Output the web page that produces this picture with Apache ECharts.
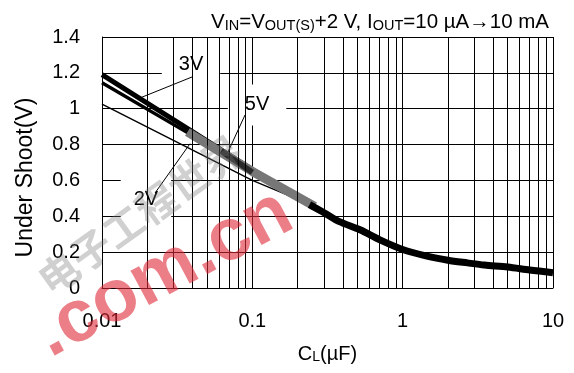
<!DOCTYPE html>
<html>
<head>
<meta charset="utf-8">
<script src="https://cdn.jsdelivr.net/npm/echarts@6/dist/echarts.min.js"></script>
<style>
	html, body { margin: 0; padding: 0; background: #fff; }
	#main { width: 574px; height: 373px; }
</style>
</head>
<body>
<div id="main"></div>
<script>
// 数据 (x: CL uF, y: Under Shoot V)
var cap3V = [0.01, 0.0385, 0.1, 0.25];
var shoot3V = [1.19, 0.88, 0.66, 0.46];
var capMid = [0.01, 0.04, 0.1, 0.25];
var shootMid = [1.145, 0.85, 0.645, 0.46];
var cap2V = [0.01, 0.1, 0.26];
var shoot2V = [1.025, 0.60, 0.455];
var cap5V = [0.037, 0.1, 0.26];
var shoot5V = [0.87, 0.65, 0.455];
var capDark = [0.062, 0.1];
var shootDark = [0.765, 0.645];
var capTail = [0.24, 0.3, 0.38, 0.52, 0.7, 1, 1.45, 2, 2.7, 3.5, 5, 7, 10];
var shootTail = [0.465, 0.42, 0.37, 0.325, 0.27, 0.215, 0.178, 0.155, 0.14, 0.128, 0.117, 0.1, 0.085];
var xTicks = ['0.01', '0.1', '1', '10'];
var yTicks = ['0', '0.2', '0.4', '0.6', '0.8', '1', '1.2', '1.4'];
var minorCaps = [2, 3, 4, 5, 6, 7, 8, 9]; // 每个十倍程里的次网格

function pairs(xs, ys) {
	var out = [];
	for (var i = 0; i < xs.length; i++) {
		out.push([xs[i], ys[i]]);
	}
	return out;
}

window.onload = function() {
	var font = 'Liberation Sans';
	var myChart = echarts.init(document.getElementById('main'));

	// 次网格线
	var minorLines = [];
	[0.01, 0.1, 1].forEach(function(d) {
		minorCaps.forEach(function(m) {
			minorLines.push({ xAxis: +(d * m).toPrecision(3) });
		});
	});

	var line = function(name, data, color, width, z, smooth) {
		return {
			name: name,
			type: 'line',
			data: data,
			showSymbol: false,
			symbol: 'none',
			smooth: smooth || false,
			z: z,
			lineStyle: { color: color, width: width, cap: 'butt', join: 'round' }
		};
	};

	var label = function(text, x, y, pad) {
		return {
			type: 'scatter',
			data: [[x, y]],
			symbolSize: 0,
			z: 4,
			silent: true,
			itemStyle: { opacity: 1, color: '#fff' },
			label: {
				show: true,
				position: 'inside',
				formatter: text,
				color: '#000',
				opacity: 1,
				fontFamily: font,
				fontSize: 20,
				backgroundColor: '#fff',
				padding: pad
			}
		};
	};

	var option = {
		backgroundColor: '#fff',
		animation: false,
		title: {
			right: 20,
			top: 4,
			text: '{n|V}{s|IN}{n|=V}{s|OUT(S)}{n|+2 V, I}{s|OUT}{n|=10 \u00b5A\u219210 mA}',
			textStyle: {
				fontWeight: 'normal',
				rich: {
					n: { fontFamily: font, fontSize: 20.5, fontWeight: 'normal', color: '#000', verticalAlign: 'bottom', lineHeight: 24 },
					s: { fontFamily: font, fontSize: 14.5, fontWeight: 'normal', color: '#000', verticalAlign: 'bottom', lineHeight: 19 }
				}
			}
		},
		grid: { left: 102, right: 21, top: 37, bottom: 85 },
		xAxis: {
			type: 'log',
			logBase: 10,
			min: 0.01,
			max: 10,
			name: '{n|C}{s|L}{n|(\u00b5F)}',
			nameLocation: 'middle',
			nameGap: 52,
			nameTextStyle: {
				rich: {
					n: { fontFamily: font, fontSize: 20, color: '#000', verticalAlign: 'bottom', lineHeight: 24 },
					s: { fontFamily: font, fontSize: 14, color: '#000', verticalAlign: 'bottom', lineHeight: 19 }
				}
			},
			axisLine: { show: true, lineStyle: { color: '#000', width: 1 } },
			axisTick: { show: false },
			axisLabel: {
				margin: 23,
				fontFamily: font,
				fontSize: 20,
				color: '#000',
				formatter: function(v) {
					var i = Math.round(Math.log10(v) + 2);
					return xTicks[i] || '';
				}
			},
			splitLine: { show: true, lineStyle: { color: '#000', width: 1 } }
		},
		yAxis: {
			type: 'value',
			min: 0,
			max: 1.4,
			interval: 0.2,
			name: 'Under Shoot(V)',
			nameLocation: 'middle',
			nameGap: 65,
			nameTextStyle: { fontFamily: font, fontSize: 23, color: '#000', padding: [0, 30, 0, 0] },
			axisLine: { show: true, lineStyle: { color: '#000', width: 1 } },
			axisTick: { show: false },
			axisLabel: {
				margin: 22,
				fontFamily: font,
				fontSize: 20,
				color: '#000',
				formatter: function(v) {
					return yTicks[Math.round(v / 0.2)];
				}
			},
			splitLine: { show: true, lineStyle: { color: '#000', width: 1 } }
		},
		series: [
			{
				type: 'line',
				data: [],
				markLine: {
					silent: true,
					symbol: 'none',
					label: { show: false },
					lineStyle: { color: '#000', width: 1, type: 'solid' },
					data: minorLines
				}
			},
			line('2V', pairs(cap2V, shoot2V), '#000', 1.4, 2),
			line('mid', pairs(capMid, shootMid), '#000', 3.4, 2),
			line('3V', pairs(cap3V, shoot3V), '#000', 5, 2),
			line('5V', pairs(cap5V, shoot5V), '#777', 9, 3),
			line('5Vdark', pairs(capDark, shootDark), '#2a2a2a', 6, 3),
			line('tail', pairs(capTail, shootTail), '#000', 7, 3, 0.3),
			label('3V', 0.0391, 1.244, [3, 17, 14, 17]),
			label('5V', 0.1075, 1.021, [3, 17, 18, 17]),
			label('2V', 0.0196, 0.491, [8, 13, 12, 13]),
			{
				type: 'lines',
				coordinateSystem: 'cartesian2d',
				z: 5,
				silent: true,
				lineStyle: { color: '#000', width: 1, opacity: 1 },
				data: [
					{ coords: [[0.0397, 1.177], [0.0179, 1.06]] },
					{ coords: [[0.0894, 0.965], [0.0689, 0.759]] },
					{ coords: [[0.02254, 0.53], [0.0385, 0.805]] }
				]
			}
		],
		graphic: [
			{
				// 水印 (灰色汉字)
				type: 'text',
				x: 140,
				y: 215,
				rotation: 0.62,
				z: 99,
				style: {
					text: '电子工程世界',
					font: 'bold 40px "Noto Sans CJK SC"',
					fill: 'rgba(120, 120, 120, 0.35)',
					align: 'center',
					verticalAlign: 'middle'
				}
			},
			{
				// 水印 (红色)
				type: 'text',
				x: 164,
				y: 274,
				rotation: 0.49,
				z: 100,
				style: {
					text: '.com.cn',
					font: 'bold 74px "Liberation Sans"',
					fill: 'rgba(222, 40, 55, 0.6)',
					align: 'center',
					verticalAlign: 'middle'
				}
			}
		]
	};
	myChart.setOption(option);
};
</script>
</body>
</html>
